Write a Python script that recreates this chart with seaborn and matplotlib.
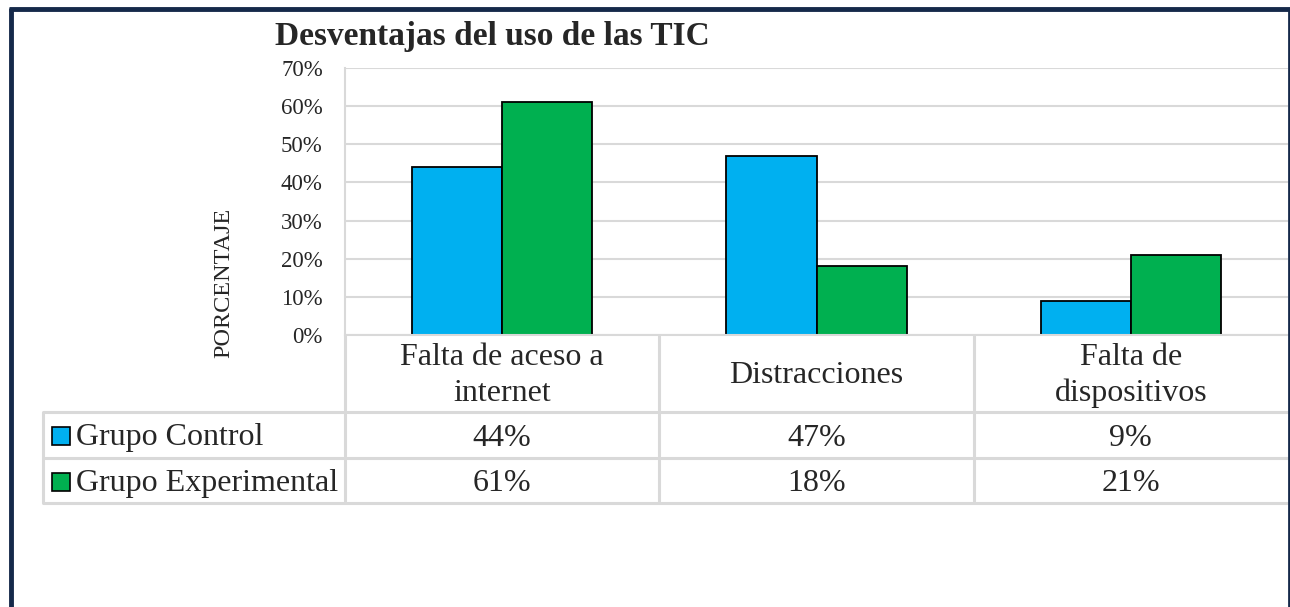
import matplotlib
matplotlib.use("Agg")
import matplotlib.pyplot as plt
import matplotlib.transforms as mtransforms
from matplotlib.patches import Rectangle
from matplotlib.ticker import PercentFormatter
import numpy as np
import pandas as pd
import seaborn as sns

# ── Data ──────────────────────────────────────────────────────────────────────
categorias = ["Falta de aceso a\ninternet", "Distracciones", "Falta de\ndispositivos"]
grupos = ["Grupo Control", "Grupo Experimental"]
control = [0.44, 0.47, 0.09]
experimental = [0.61, 0.18, 0.21]
colores = ["#00B0F0", "#00B050"]

df = pd.DataFrame({
    "categoria": categorias * 2,
    "grupo": [grupos[0]] * 3 + [grupos[1]] * 3,
    "valor": control + experimental,
})

# ── Figure ────────────────────────────────────────────────────────────────────
W, H = 1290, 607
sns.set_style("white")
plt.rcParams["font.family"] = ["Liberation Serif", "DejaVu Serif"]
fig = plt.figure(figsize=(W / 100, H / 100), dpi=100)

grid_c = "#D9D9D9"
left, right, top, bottom = 345, 1288, 68, 335
ax = fig.add_axes([left / W, 1 - bottom / H, (right - left) / W, (bottom - top) / H])

sns.barplot(data=df, x="categoria", y="valor", hue="grupo", palette=colores,
            saturation=1, edgecolor="black", linewidth=1.3, width=0.573,
            legend=False, ax=ax)

ax.set_xlim(-0.5, 2.5)
ax.set_ylim(0, 0.7)
ax.set_yticks(np.arange(0, 0.71, 0.1))
ax.yaxis.set_major_formatter(PercentFormatter(1.0, decimals=0))
ax.tick_params(axis="y", length=0, pad=16, labelsize=16.5)
ax.set_xticks([])
ax.set_xlabel("")
ax.set_ylabel("")
ax.grid(axis="y", color=grid_c, linewidth=1.5)
ax.set_axisbelow(True)
for s in ["top", "right"]:
    ax.spines[s].set_visible(False)
for s in ["left", "bottom"]:
    ax.spines[s].set_color(grid_c)
    ax.spines[s].set_linewidth(1.5)

# ── Overlay in pixel coordinates (table, title, frame) ───────────────────────
ov = fig.add_axes([0, 0, 1, 1], zorder=5)
ov.set_xlim(0, W)
ov.set_ylim(H, 0)
ov.axis("off")
ov.patch.set_alpha(0)

# x from bar axes data, y in pixels
tr = mtransforms.blended_transform_factory(ax.transData, ov.transData)

row_cat = (335, 412)
row1 = (412, 458)
row2 = (458, 503)
tab_left = 43

# horizontal lines
for y in [row1[0], row2[0], row2[1]]:
    ov.plot([tab_left, right], [y, y], color=grid_c, lw=2.2, solid_capstyle="butt")
# vertical lines
ov.plot([tab_left, tab_left], [row1[0], row2[1]], color=grid_c, lw=2.2)
for i in range(3):
    ov.plot([i - 0.5, i - 0.5], [row_cat[0], row2[1]], color=grid_c, lw=2.2,
            transform=tr)

# cell texts
fs = 23
for i, cat in enumerate(categorias):
    ov.text(i, sum(row_cat) / 2 + 2, cat, transform=tr, ha="center", va="center",
            fontsize=fs, linespacing=1.3)
    ov.text(i, sum(row1) / 2 + 3, f"{control[i] * 100:.0f}%", transform=tr,
            ha="center", va="center", fontsize=fs)
    ov.text(i, sum(row2) / 2 + 3, f"{experimental[i] * 100:.0f}%", transform=tr,
            ha="center", va="center", fontsize=fs)

# legend keys
for (y0, y1), g, c in zip([row1, row2], grupos, colores):
    yc = (y0 + y1) / 2
    ov.add_patch(Rectangle((52, yc - 8), 18, 18, facecolor=c, edgecolor="black", lw=1.2))
    ov.text(76, yc + 3, g, ha="left", va="center", fontsize=fs)

# axis label
ov.text(224, 283, "PORCENTAJE", rotation=90, ha="center", va="center", fontsize=17.5)

# title
ov.text(275, 45, "Desventajas del uso de las TIC", ha="left", va="baseline",
        fontsize=24, fontweight="bold")

# outer frame
navy = "#15294A"
ov.plot([11, 11], [8, H], color=navy, lw=3.5, solid_capstyle="butt")
ov.plot([9, W], [8.5, 8.5], color=navy, lw=3.5, solid_capstyle="butt")
ov.plot([1288.5, 1288.5], [8, H], color=navy, lw=2, solid_capstyle="butt")

fig.savefig("out.png", dpi=100)
plt.close(fig)
